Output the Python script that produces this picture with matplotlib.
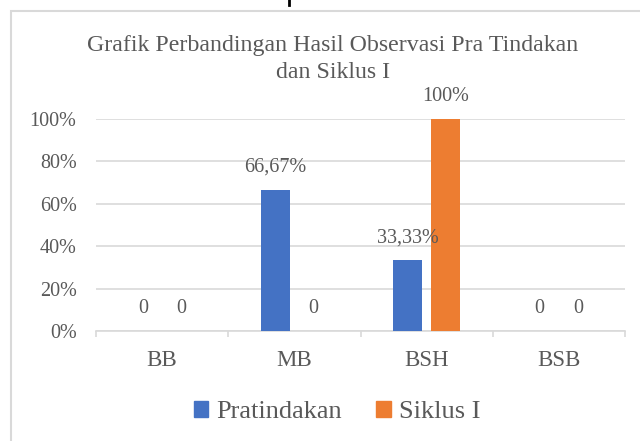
import numpy as np
import matplotlib
matplotlib.use('Agg')
import matplotlib.pyplot as plt
from matplotlib.patches import Rectangle, Patch
from matplotlib.lines import Line2D
from matplotlib.ticker import PercentFormatter

categories = ['BB', 'MB', 'BSH', 'BSB']
pratindakan = [0, 66.67, 33.33, 0]
siklus1 = [0, 0, 100, 0]
label_pra = ['0', '66,67%', '33,33%', '0']
label_sik = ['0', '0', '100%', '0']

plt.rcParams['font.family'] = ['Liberation Serif', 'DejaVu Serif']
grey = '#595959'
grid_c = '#d9d9d9'
blue = '#4472C4'
orange = '#ED7D31'

W, H = 640, 441
fig = plt.figure(figsize=(W / 100, H / 100), dpi=100)

# outer chart frame and small stray mark at the top
fig.add_artist(Rectangle((11 / W, -0.05), 2, 1 - 11 / H + 0.05, transform=fig.transFigure,
                         fill=False, edgecolor=grid_c, linewidth=1.5))
fig.add_artist(Line2D([289 / W, 289 / W], [1, 1 - 5 / H], transform=fig.transFigure,
                      color='black', linewidth=2))

ax = fig.add_axes([96 / W, 1 - 331 / H, (625 - 96) / W, (331 - 119) / H])

x = np.arange(len(categories))
w = 0.22
off = 0.145
b1 = ax.bar(x - off, pratindakan, w, color=blue, zorder=3)
b2 = ax.bar(x + off, siklus1, w, color=orange, zorder=3)

for bars, labels in ((b1, label_pra), (b2, label_sik)):
    for rect, lab in zip(bars, labels):
        ax.annotate(lab, (rect.get_x() + rect.get_width() / 2, rect.get_height()),
                    xytext=(0, 16), textcoords='offset points', ha='center', va='center',
                    fontsize=14.5, color=grey, annotation_clip=False)

ax.set_ylim(0, 100)
ax.set_xlim(-0.5, 3.5)
ax.set_yticks([0, 20, 40, 60, 80, 100])
ax.yaxis.set_major_formatter(PercentFormatter(decimals=0))
ax.grid(axis='y', color=grid_c, linewidth=1.2, zorder=0)
ax.set_xticks(x)
ax.set_xticklabels(categories)
ax.set_xticks(np.arange(-0.5, 4, 1), minor=True)
ax.tick_params(axis='x', which='major', length=0, pad=14, labelsize=16.5, labelcolor=grey)
ax.tick_params(axis='x', which='minor', length=4, color=grid_c, width=1.2)
ax.tick_params(axis='y', length=0, pad=14, labelsize=14.5, labelcolor=grey)
for s in ['top', 'right', 'left']:
    ax.spines[s].set_visible(False)
ax.spines['bottom'].set_color(grid_c)
ax.spines['bottom'].set_linewidth(1.2)

fig.text(333 / W, 1 - 46 / H, 'Grafik Perbandingan Hasil Observasi Pra Tindakan',
         ha='center', va='center', fontsize=17.2, color=grey)
fig.text(333 / W, 1 - 73 / H, 'dan Siklus I', ha='center', va='center',
         fontsize=17.2, color=grey)

handles = [Patch(color=blue), Patch(color=orange)]
fig.legend(handles, ['Pratindakan', 'Siklus I'], loc='center',
           bbox_to_anchor=(337 / W, 1 - 412 / H), ncol=2, frameon=False,
           fontsize=19, labelcolor=grey, handlelength=0.55, handleheight=0.55,
           handletextpad=0.3, columnspacing=1.3)

fig.savefig('out.png', dpi=100)
